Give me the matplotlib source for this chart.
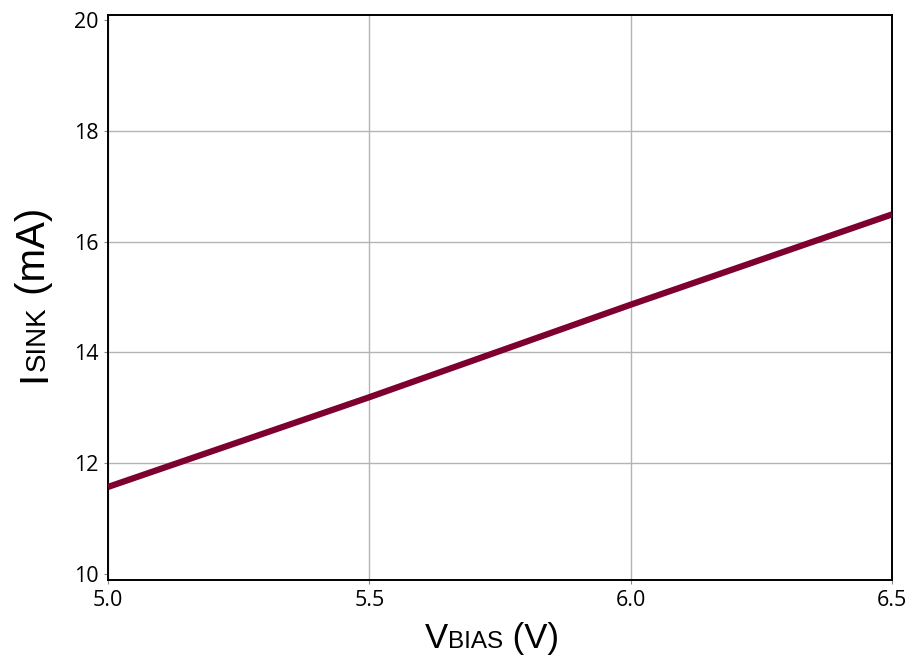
import matplotlib
matplotlib.use("Agg")
import matplotlib.pyplot as plt
from matplotlib.transforms import offset_copy

# data
v_bias = [5.0, 5.5, 6.0, 6.5]
i_sink = [11.57, 13.19, 14.86, 16.49]
x_ticks = [5.0, 5.5, 6.0, 6.5]
y_ticks = [10, 12, 14, 16, 18, 20]

fig = plt.figure(figsize=(9.17, 6.58), dpi=100)
ax = fig.add_axes([108 / 917, 1 - 580 / 658, 784 / 917, 565 / 658])

ax.plot(v_bias, i_sink, color='#7d0030', linewidth=4.5, solid_capstyle='butt', zorder=3)

ax.set_xlim(5.0, 6.5)
ax.set_ylim(9.89, 20.09)
ax.set_xticks(x_ticks)
ax.set_xticklabels([f'{v:.1f}' for v in x_ticks])
ax.set_yticks(y_ticks)
ax.grid(True, color='#b4b4b4', linewidth=1.0)
ax.set_axisbelow(True)
# no grid at the 10 / 20 limits
gl = ax.yaxis.get_gridlines()
gl[0].set_visible(False)
gl[-1].set_visible(False)
for s in ax.spines.values():
    s.set_linewidth(1.4)
    s.set_color('black')
ax.tick_params(length=3, color='#888888', labelsize=15.5, pad=4)
for lbl in ax.get_xticklabels() + ax.get_yticklabels():
    lbl.set_fontfamily('Open Sans')

# axis labels with small-caps style subscripts on the baseline
def multi_text(x, y, parts, rotation=0):
    fig.canvas.draw()
    r = fig.canvas.get_renderer()
    tr = fig.transFigure
    ox = 0
    made = []
    for txt, size in parts:
        t = fig.text(x, y, txt, fontsize=size, family='Liberation Sans',
                     rotation=rotation, va='baseline', ha='left',
                     rotation_mode='anchor',
                     transform=offset_copy(tr, fig, x=0 if rotation else ox,
                                           y=ox if rotation else 0, units='dots'))
        made.append(t)
        w = t.get_window_extent(r)
        ox += w.height if rotation else w.width
    return ox, made

xparts = [('V', 25), ('BIAS', 17.5), (' (V)', 25)]
tot, made = multi_text(0, 0, xparts)
for t in made:
    t.remove()
multi_text((492 - tot / 2) / 917, 1 - 648 / 658, xparts)

yparts = [('I', 29), ('SINK', 20), (' (mA)', 29)]
tot, made = multi_text(0, 0, yparts, rotation=90)
for t in made:
    t.remove()
multi_text(45 / 917, (658 - 295 - tot / 2) / 658, yparts, rotation=90)

fig.savefig('out.png', dpi=100)
